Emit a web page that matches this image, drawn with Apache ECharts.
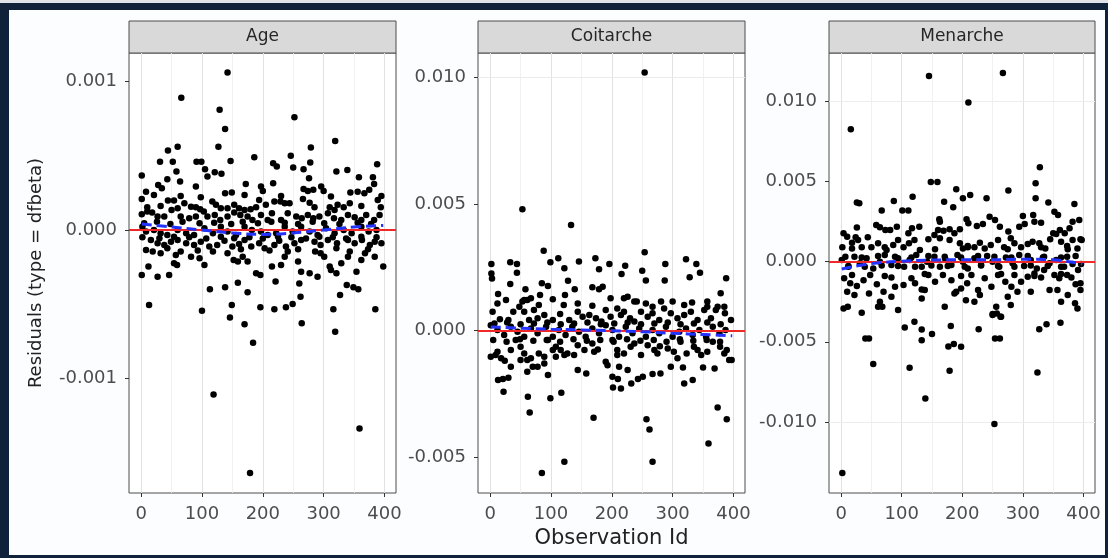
<!DOCTYPE html>
<html>

<head>
    <meta charset="utf-8">
    <title>Residuals (type = dfbeta)</title>
    <script src="https://cdn.jsdelivr.net/npm/echarts@6/dist/echarts.min.js"></script>
    <style>
        html, body { margin: 0; padding: 0; background: #dfe3e7; }
        #frame {
            position: absolute; left: 0; top: 3px; width: 1108px; height: 555px;
            box-sizing: border-box; border-style: solid; border-color: #0f2239;
            border-width: 7px 3px 3px 9px; background: #fcfdfe;
        }
        #main { position: absolute; left: 0; top: 0; width: 1108px; height: 558px; }
    </style>
</head>

<body>
    <div id="frame"></div>
    <div id="main"></div>
    <script type="text/javascript">
        // facet names
        var facets = ['Age', 'Coitarche', 'Menarche'];

        // tick labels
        var xTicks = [0, 100, 200, 300, 400];
        var xMinor = [50, 150, 250, 350];
        var ageTicks = [-0.001, 0, 0.001];
        var ageMinor = [-0.0015, -0.0005, 0.0005];
        var coitTicks = [-0.005, 0, 0.005, 0.010];
        var coitMinor = [-0.0025, 0.0025, 0.0075];
        var menTicks = [-0.010, -0.005, 0, 0.005, 0.010];
        var menMinor = [-0.0125, -0.0075, -0.0025, 0.0025, 0.0075, 0.0125];

        // dfbeta per observation
        var agePoints = [
            [142,0.00106],[66,0.00089],[129,0.00081],[138,0.00068],[252,0.00076],[319,0.00060],[127,0.00056],[60,0.00056],[44,0.000535],[279,0.000555],[1,0.000366],
            [186,0.00049],[246,0.0005],[31,0.00046],[52,0.00046],[91,0.00046],[99,0.00046],[147,0.000465],[217,0.000449],[223,0.000427],[250,0.00042],[267,0.000409],[278,0.000454],[321,0.000393],[339,0.000404],[388,0.000443],
            [58,0.000393],[105,0.000409],[109,0.00036],[121,0.000389],[132,0.000378],[43,0.000342],[64,0.000326],[172,0.00031],[217,0.000315],[276,0.000348],[358,0.000355],[381,0.000355],[383,0.00031],
            [28,0.000303],[34,0.000281],[90,0.000292],[197,0.000292],[200,0.000263],[138,0.000247],[149,0.000252],[267,0.000276],[274,0.000263],[283,0.00027],[296,0.000292],[300,0.000263],
            [8,0.000258],[1,0.000209],[21,0.000236],[344,0.000252],[356,0.000258],[367,0.000247],[375,0.00027],[44,0.000198],[54,0.000198],[71,0.00018],[82,0.000157],[90,0.000153],[97,0.000139],
            [117,0.000191],[123,0.000169],[131,0.000146],[142,0.000146],[161,0.000146],[170,0.000135],[180,0.000139],[194,0.000202],[205,0.000169],[219,0.000191],[229,0.000191],[236,0.00018],[244,0.00018],
            [266,0.000209],[277,0.000184],[310,0.000153],[323,0.000169],[333,0.000153],[343,0.00018],[389,0.000202],[394,0.000153],
            [65,0.000229],[98,0.00022],[170,0.000236],[230,0.000229],[312,0.000225],[395,0.000229],
            [10,0.000153],[32,0.000162],[60,0.000146],[153,0.000169],[189,0.000153],[285,0.000153],[318,0.000135],[362,0.000162],
            [1,0.000106],[10,0.000124],[18,0.000117],[27,0.00009],[38,0.00009],[50,0.000135],[65,0.00009],[79,0.000079],[90,0.00009],[103,0.000124],[109,0.00009],[121,0.000101],[130,0.000067],
            [142,0.00009],[153,0.000117],[163,0.000101],[175,0.00009],[183,0.000067],[197,0.000101],[208,0.000067],[215,0.000112],[230,0.000067],[241,0.000112],[255,0.00009],[264,0.000079],
            [274,0.000101],[283,0.000079],[293,0.00009],[307,0.000112],[317,0.000079],[329,0.000067],[340,0.000101],[351,0.000085],[362,0.000067],[370,0.000101],[383,0.000067],[392,0.000101],
            [5,0.000045],[26,0.000056],[48,0.00004],[68,0.000056],[96,0.000045],[120,0.000049],[148,0.00004],[167,0.000056],[192,0.000045],[214,0.000056],[236,0.000049],[258,0.00004],
            [282,0.000056],[301,0.000045],[326,0.00004],[356,0.000049],[378,0.00004],
            [2,0.000022],[8,-0.000011],[21,0],[32,-0.000022],[43,-0.000034],[60,0],[74,-0.000022],[87,-0.000034],[104,0.000011],[118,-0.000022],[131,0.000022],[142,-0.000011],[156,-0.000034],
            [170,0.000022],[182,0],[197,-0.000011],[208,-0.000034],[222,-0.000022],[236,0.000022],[249,-0.000011],[263,0.000022],[277,-0.000011],[290,-0.000034],[304,0.000011],[318,-0.000022],
            [333,0],[346,-0.000022],[362,0.000022],[374,-0.000011],[387,0],
            [2,-0.000049],[30,-0.000056],[54,-0.000045],[79,-0.000049],[107,-0.000058],[131,-0.000045],[153,-0.000056],[178,-0.000049],[200,-0.000058],[225,-0.000045],[247,-0.000049],
            [271,-0.000058],[293,-0.000045],[315,-0.000049],[337,-0.000058],[362,-0.000045],[387,-0.000049],
            [16,-0.000067],[27,-0.00009],[38,-0.000101],[49,-0.000079],[60,-0.000067],[74,-0.00009],[87,-0.000101],[98,-0.000079],[112,-0.000112],[125,-0.000101],[137,-0.000072],[150,-0.000112],
            [161,-0.000094],[170,-0.000067],[181,-0.000112],[194,-0.00009],[203,-0.000124],[219,-0.000101],[227,-0.000072],[238,-0.000112],[252,-0.00009],[263,-0.000067],[285,-0.000079],
            [295,-0.000101],[307,-0.000067],[322,-0.00009],[340,-0.000067],[351,-0.00009],[363,-0.000067],[376,-0.000101],[384,-0.000079],[395,-0.00009],
            [8,-0.000135],[43,-0.000124],[93,-0.000139],[118,-0.000146],[164,-0.00013],[211,-0.000139],[258,-0.00013],[321,-0.000124],[373,-0.00013],
            [19,-0.000146],[32,-0.000157],[57,-0.000169],[65,-0.000146],[82,-0.00018],[96,-0.000191],[104,-0.000236],[12,-0.000247],[1,-0.000303],[27,-0.000315],[46,-0.000303],[54,-0.000225],
            [59,-0.000236],[142,-0.000157],[152,-0.000202],[159,-0.000213],[167,-0.00018],[175,-0.000213],[189,-0.000292],[196,-0.000303],[215,-0.000247],[230,-0.000236],[236,-0.00018],
            [241,-0.000146],[258,-0.000213],[263,-0.000281],[277,-0.000292],[290,-0.000315],[301,-0.00018],[310,-0.000247],[286,-0.000146],[295,-0.000157],[329,-0.000225],[340,-0.00018],
            [343,-0.000146],[354,-0.000281],[362,-0.000202],[368,-0.000157],[384,-0.00018],[398,-0.000247],[312,-0.00027],[321,-0.000292],
            [13,-0.000506],[113,-0.0004],[138,-0.000386],[159,-0.000355],[175,-0.00042],[100,-0.000544],[149,-0.000506],[146,-0.000589],[170,-0.000636],[184,-0.00076],[196,-0.000521],
            [219,-0.000535],[221,-0.000348],[238,-0.000521],[249,-0.000499],[262,-0.00045],[264,-0.000629],[260,-0.00036],[316,-0.000535],[319,-0.000686],[327,-0.000438],[338,-0.000371],
            [349,-0.000386],[357,-0.0004],[385,-0.000535],[119,-0.001108],[179,-0.001637],[359,-0.001337]
        ];

        var coitPoints = [
            [254,0.0102],[53,0.0048],[133,0.00418],[88,0.00316],[254,0.0031],[2,0.00264],[33,0.0027],[44,0.00264],[44,0.00229],[2,0.00226],[3,0.00206],[99,0.0027],[112,0.00286],
            [122,0.00247],[146,0.00273],[173,0.00286],[179,0.00243],[196,0.00264],[216,0.00224],[222,0.00257],[250,0.00237],[256,0.00198],[288,0.00264],[287,0.00198],[322,0.00282],
            [339,0.00264],[345,0.00229],[328,0.00211],[388,0.00207],[379,0.00148],[33,0.00185],[58,0.00164],[85,0.00188],[95,0.00177],[128,0.00197],[139,0.00164],[168,0.00172],
            [179,0.00164],[185,0.00174],[13,0.00145],
            [26,0.00121],[53,0.00115],[61,0.00121],[67,0.00128],[82,0.00141],[80,0.00102],[103,0.00124],[123,0.00141],[121,0.00102],[168,0.00099],[220,0.00128],[226,0.00134],
            [241,0.00115],[256,0.00108],[267,0.00095],[281,0.00115],[300,0.00115],[332,0.00111],[357,0.00095],[371,0.00082],[385,0.00095],
            [12,0.00108],[56,0.00121],[144,0.00108],[198,0.00128],[237,0.00115],[319,0.00102],[357,0.00115],
            [4,0.00075],[16,0.00045],[30,0.00042],[38,0.00075],[48,0.00095],[56,0.00075],[64,0.00042],[72,0.00082],[78,0.00049],[89,0.00062],[103,0.00042],[115,0.00066],[130,0.00042],
            [144,0.00075],[152,0.00055],[163,0.00062],[174,0.00049],[183,0.00036],[190,0.00082],[198,0.00055],[209,0.00088],[215,0.00062],[220,0.00075],[230,0.00049],[237,0.00036],
            [248,0.00075],[259,0.00055],[267,0.00069],[278,0.00042],[286,0.00088],[297,0.00069],[308,0.00049],[319,0.00062],[330,0.00075],[341,0.00042],[352,0.00082],[363,0.00049],
            [374,0.00095],[386,0.00069],[396,0.00042],
            [7,0.00029],[28,0.00032],[50,0.00026],[72,0.00029],[94,0.00032],[116,0.00026],[138,0.00029],[160,0.00032],[182,0.00026],[204,0.00029],[226,0.00032],[248,0.00026],
            [270,0.00029],[292,0.00032],[313,0.00026],[335,0.00029],[357,0.00032],[379,0.00026],
            [1,0.00022],[12,0.00003],[23,-0.00017],[34,0.00016],[45,-0.00004],[56,-0.00024],[67,0.00009],[78,-0.0001],[92,0.00016],[103,-0.00024],[113,0.00003],[124,-0.00017],[135,0.00016],
            [146,-0.00004],[157,-0.00024],[168,0.00009],[179,-0.0001],[190,0.00022],[201,0.00003],[212,-0.00024],[223,0.00016],[234,-0.0001],[245,0.00009],[256,-0.00024],[267,0.00003],
            [278,-0.0001],[289,0.00016],[300,-0.00024],[311,-0.00004],[322,0.00009],[333,-0.00017],[344,0.00003],[355,-0.00024],[366,0.00016],[377,-0.0001],[387,0.00003],
            [5,-0.00037],[27,-0.00044],[49,-0.00034],[71,-0.0004],[93,-0.00037],[115,-0.00044],[137,-0.00034],[159,-0.0004],[181,-0.00037],[203,-0.00044],[225,-0.00034],[247,-0.0004],
            [269,-0.00037],[290,-0.00044],[312,-0.00034],[334,-0.0004],[356,-0.00037],[378,-0.00044],
            [1,-0.00103],[9,-0.00096],[18,-0.00109],[24,-0.00119],[34,-0.00076],[42,-0.00037],[50,-0.00063],[61,-0.00116],[67,-0.00109],[80,-0.0009],[89,-0.00103],[95,-0.00037],
            [108,-0.00063],[116,-0.00076],[127,-0.0009],[138,-0.00096],[144,-0.00057],[155,-0.00076],[168,-0.0005],[171,-0.00083],[190,-0.00123],[193,-0.00136],[201,-0.00037],
            [209,-0.00076],[220,-0.0009],[231,-0.00063],[237,-0.0005],[248,-0.00096],[259,-0.00057],[270,-0.00076],[279,-0.00061],[292,-0.0007],[302,-0.00083],[313,-0.00044],
            [323,-0.0009],[335,-0.00063],[347,-0.00096],[357,-0.00083],[366,-0.00044],[378,-0.00063],[389,-0.00076],[397,-0.00116],
            [12,-0.00083],[56,-0.0009],[103,-0.00076],[177,-0.00074],[209,-0.00096],[275,-0.0009],[341,-0.00076],[385,-0.0009],
            [78,-0.00142],[89,-0.00129],[108,-0.00103],[122,-0.00096],[212,-0.00142],[226,-0.00155],[308,-0.00109],[297,-0.00142],[280,-0.00169],[34,-0.00142],[50,-0.00116],
            [61,-0.00162],[70,-0.00142],
            [85,-0.00562],[122,-0.00518],[267,-0.00518],[359,-0.00445],[170,-0.00344],[257,-0.0035],[262,-0.0039],[374,-0.00303],[389,-0.0035],[65,-0.00323],[62,-0.00261],[99,-0.00267],
            [117,-0.00245],[22,-0.00241],[13,-0.00195],[21,-0.00191],[30,-0.00186],[202,-0.00224],[215,-0.00228],[201,-0.00182],[210,-0.00191],[232,-0.00208],[243,-0.00191],
            [251,-0.00182],[267,-0.00171],[319,-0.00208],[333,-0.00195],[369,-0.00149],[350,-0.00145],[317,-0.00145],[158,-0.00169],[144,-0.00155],[95,-0.00175],[393,-0.00116]
        ];

        var menPoints = [
            [145,0.0116],[267,0.01178],[210,0.00994],[16,0.00827],[148,0.00498],[159,0.00498],[328,0.0059],[321,0.0049],[276,0.00444],[190,0.00452],[213,0.00417],[201,0.00396],
            [240,0.00396],[321,0.00396],[342,0.00369],[26,0.00369],[30,0.00365],[87,0.00379],[118,0.00406],[170,0.00375],[185,0.0034],[385,0.0036],[352,0.00312],[358,0.00292],
            [67,0.00319],[101,0.00319],[111,0.00319],[162,0.00265],[163,0.0025],[207,0.00265],[245,0.00281],[254,0.0026],[300,0.00286],[317,0.00292],[393,0.0026],[382,0.0025],
            [58,0.00229],[64,0.00215],[73,0.00198],[26,0.00213],[81,0.00198],[92,0.00219],[117,0.00209],[111,0.00177],[129,0.00219],[160,0.00198],[169,0.00194],[179,0.00202],
            [196,0.00202],[210,0.0024],[224,0.00223],[234,0.00236],[262,0.00219],[276,0.00188],[294,0.00219],[303,0.00236],[319,0.0025],[330,0.00244],[350,0.00177],[361,0.00198],
            [369,0.00177],[377,0.00209],[395,0.0014],[4,0.00177],[10,0.00156],[24,0.00152],
            [2,0.0009],[18,0.00119],[28,0.00135],[34,0.0009],[44,0.00152],[50,0.0009],[61,0.00115],[75,0.00073],[86,0.00104],[94,0.00135],[103,0.0009],[112,0.00115],[121,0.00135],
            [130,0.00073],[144,0.0014],[154,0.00167],[163,0.00146],[179,0.00135],[187,0.00177],[196,0.00115],[201,0.00083],[209,0.00098],[220,0.0009],[229,0.00119],[237,0.00083],
            [247,0.00104],[259,0.00135],[269,0.0009],[280,0.00146],[286,0.00115],[297,0.0009],[308,0.0011],[316,0.00125],[327,0.00115],[337,0.00083],[345,0.0014],[355,0.00173],
            [363,0.00125],[373,0.00098],[382,0.00135],[390,0.00083],[397,0.00135],
            [18,0.00083],[72,0.0009],[155,0.00077],[209,0.0009],[275,0.00077],[330,0.0009],[374,0.00077],
            [7,0.00031],[34,0.00027],[61,0.00035],[89,0.00031],[116,0.00027],[144,0.00035],[171,0.00031],[198,0.00027],[226,0.00035],[253,0.00031],[281,0.00027],[308,0.00035],
            [335,0.00031],[363,0.00027],[387,0.00035],
            [1,0.0001],[12,-0.00031],[22,0.00031],[31,-0.0001],[42,0.00021],[53,-0.00042],[64,0],[72,0.00042],[83,-0.00021],[94,0.00021],[104,-0.00031],[113,0.0001],[124,0.00042],
            [133,-0.00031],[142,0],[154,0.00031],[163,-0.00031],[172,0.00015],[182,-0.00021],[192,0.00042],[201,0],[209,-0.00042],[220,0.00021],[231,-0.00021],[241,0.00035],[250,0],
            [261,-0.00031],[272,0.00027],[283,-0.0001],[294,0.00042],[302,-0.00027],[313,0.0001],[323,-0.00042],[333,0.00027],[344,-0.0001],[355,0.0001],[363,-0.00031],[373,0.00031],
            [382,-0.00015],[391,-0.00052],[396,-0.00015],
            [12,-0.00027],[39,-0.00031],[67,-0.00023],[94,-0.00027],[122,-0.00031],[149,-0.00023],[176,-0.00027],[204,-0.00031],[231,-0.00023],[259,-0.00027],[286,-0.00031],
            [313,-0.00023],[341,-0.00027],[368,-0.00031],
            [18,-0.00083],[72,-0.0009],[138,-0.00077],[198,-0.0009],[264,-0.00077],[319,-0.0009],[363,-0.00077],
            [5,-0.00104],[15,-0.00135],[26,-0.00152],[37,-0.00115],[48,-0.00083],[59,-0.0014],[70,-0.00188],[83,-0.00098],[89,-0.00156],[103,-0.00146],[116,-0.00104],[122,-0.00135],
            [133,-0.00173],[144,-0.00083],[155,-0.00125],[168,-0.00083],[182,-0.00115],[190,-0.00188],[198,-0.00167],[208,-0.00135],[215,-0.00083],[226,-0.00177],[237,-0.00104],
            [248,-0.00156],[259,-0.00083],[271,-0.00125],[281,-0.00156],[286,-0.00083],[297,-0.00125],[308,-0.00094],[319,-0.00073],[330,-0.00098],[335,-0.00052],[352,-0.00083],
            [360,-0.00104],[373,-0.00083],[380,-0.00098],[387,-0.0014],[395,-0.00177],
            [10,-0.00188],[22,-0.00208],[4,-0.00292],[11,-0.00281],[34,-0.00319],[46,-0.00198],[61,-0.00281],[68,-0.00281],[64,-0.0025],[83,-0.00219],[94,-0.00302],[133,-0.00229],
            [138,-0.00177],[171,-0.00281],[187,-0.00198],[206,-0.0024],[220,-0.0025],[229,-0.00208],[250,-0.00327],[256,-0.00281],[264,-0.00344],[275,-0.00219],[280,-0.00271],
            [291,-0.00188],[313,-0.00188],[344,-0.00177],[357,-0.00177],[363,-0.0025],[374,-0.00208],[386,-0.0026],[390,-0.00292],[395,-0.00135],
            [105,-0.0041],[133,-0.00423],[133,-0.0049],[121,-0.00375],[150,-0.00452],[181,-0.00402],[177,-0.0053],[186,-0.00514],[198,-0.00531],[227,-0.00421],[250,-0.00333],
            [257,-0.00323],[263,-0.00344],[254,-0.00479],[262,-0.00479],[327,-0.00421],[339,-0.00391],[362,-0.00381],[40,-0.00479],[46,-0.00479],[53,-0.00639],[113,-0.00662],
            [179,-0.00681],[324,-0.00692],[139,-0.00854],[253,-0.01014],[2,-0.01319]
        ];

        // loess smooth (blue dashed)
        var smoothX = [1, 50, 100, 150, 200, 250, 300, 350, 398];
        var ageSmooth = [0.00004, 0.00002, 0, -0.00002, -0.00003, -0.00002, 0, 0.00002, 0.00003];
        var coitSmooth = [0.00015, 0.0001, 0.00006, 0.00003, 0, -0.00004, -0.0001, -0.00015, -0.0002];
        var menSmooth = [-0.00045, -0.00012, 0.00003, 0.0001, 0.00012, 0.00012, 0.00015, 0.00012, -0.00015];

        var font = 'DejaVu Sans';
        var panels = [
            { pts: agePoints, smooth: ageSmooth, ticks: ageTicks, minor: ageMinor, yMin: -0.001772, yMax: 0.001192, left: 129, width: 267 },
            { pts: coitPoints, smooth: coitSmooth, ticks: coitTicks, minor: coitMinor, yMin: -0.00641, yMax: 0.01097, left: 478, width: 267 },
            { pts: menPoints, smooth: menSmooth, ticks: menTicks, minor: menMinor, yMin: -0.01444, yMax: 0.01303, left: 829, width: 266 }
        ];
        var panelTop = 53, panelHeight = 440;

        var myChart = echarts.init(document.getElementById('main'));
        var option = { animation: false, grid: [], xAxis: [], yAxis: [], series: [], graphic: [] };

        panels.forEach(function (p, i) {
            option.grid.push({
                left: p.left, top: panelTop, width: p.width, height: panelHeight,
                show: true, backgroundColor: '#ffffff', borderColor: '#4d4d4d', borderWidth: 1
            });
            option.xAxis.push({
                type: 'value', gridIndex: i, min: -20, max: 419,
                splitLine: { show: false },
                axisLine: { show: false, onZero: false },
                axisTick: { show: true, customValues: xTicks, length: 4, lineStyle: { color: '#333333' } },
                axisLabel: { customValues: xTicks, color: '#4d4d4d', fontSize: 18, fontFamily: font, margin: 12 },
                name: i === 1 ? 'Observation Id' : '',
                nameLocation: 'middle', nameGap: 30,
                nameTextStyle: { fontSize: 21, fontFamily: font, color: '#222222' }
            });
            option.yAxis.push({
                type: 'value', gridIndex: i, min: p.yMin, max: p.yMax,
                splitLine: { show: false },
                axisLine: { show: false, onZero: false },
                axisTick: { show: true, customValues: p.ticks, length: 4, lineStyle: { color: '#333333' } },
                axisLabel: {
                    customValues: p.ticks, color: '#4d4d4d', fontSize: 18, fontFamily: font, margin: 12,
                    formatter: function (v) { return v.toFixed(3); }
                },
                name: i === 0 ? 'Residuals (type = dfbeta)' : '',
                nameLocation: 'middle', nameRotate: 90, nameGap: 84,
                nameTextStyle: { fontSize: 18, fontFamily: font, color: '#222222' }
            });

            // panel grid lines
            var gl = [];
            xTicks.forEach(function (v) { gl.push({ xAxis: v, lineStyle: { color: '#e2e2e2', width: 1, type: 'solid' } }); });
            xMinor.forEach(function (v) { gl.push({ xAxis: v, lineStyle: { color: '#eeeeee', width: 0.8, type: 'solid' } }); });
            p.ticks.forEach(function (v) { gl.push({ yAxis: v, lineStyle: { color: '#e2e2e2', width: 1, type: 'solid' } }); });
            p.minor.forEach(function (v) { gl.push({ yAxis: v, lineStyle: { color: '#eeeeee', width: 0.8, type: 'solid' } }); });
            option.series.push({
                type: 'scatter', xAxisIndex: i, yAxisIndex: i, data: [], silent: true, z: 1,
                markLine: { silent: true, z: 1, symbol: ['none', 'none'], label: { show: false }, data: gl }
            });

            option.series.push({
                type: 'scatter', xAxisIndex: i, yAxisIndex: i, data: p.pts, z: 2,
                symbol: 'circle', symbolSize: 6.5, itemStyle: { color: '#000000', opacity: 1 }
            });

            var sm = smoothX.map(function (x, k) { return [x, p.smooth[k]]; });
            option.series.push({
                type: 'line', xAxisIndex: i, yAxisIndex: i, data: sm, z: 4, smooth: 0.4,
                symbol: 'none', silent: true,
                lineStyle: { color: '#2233ff', width: 3, type: [10, 5] },
                markLine: {
                    silent: true, z: 3, symbol: ['none', 'none'], label: { show: false },
                    lineStyle: { color: '#f02828', width: 1.8, type: 'solid' },
                    data: [{ yAxis: 0 }]
                }
            });

            // facet strip
            option.graphic.push({
                type: 'rect', shape: { x: p.left, y: 21, width: p.width, height: 32 },
                style: { fill: '#d9d9d9', stroke: '#4d4d4d', lineWidth: 1 }
            });
            option.graphic.push({
                type: 'text',
                style: {
                    text: facets[i], x: p.left + p.width / 2, y: 37,
                    textAlign: 'center', textVerticalAlign: 'middle',
                    font: '17px "DejaVu Sans"', fill: '#262626'
                }
            });
        });

        myChart.setOption(option);
    </script>
</body>

</html>
